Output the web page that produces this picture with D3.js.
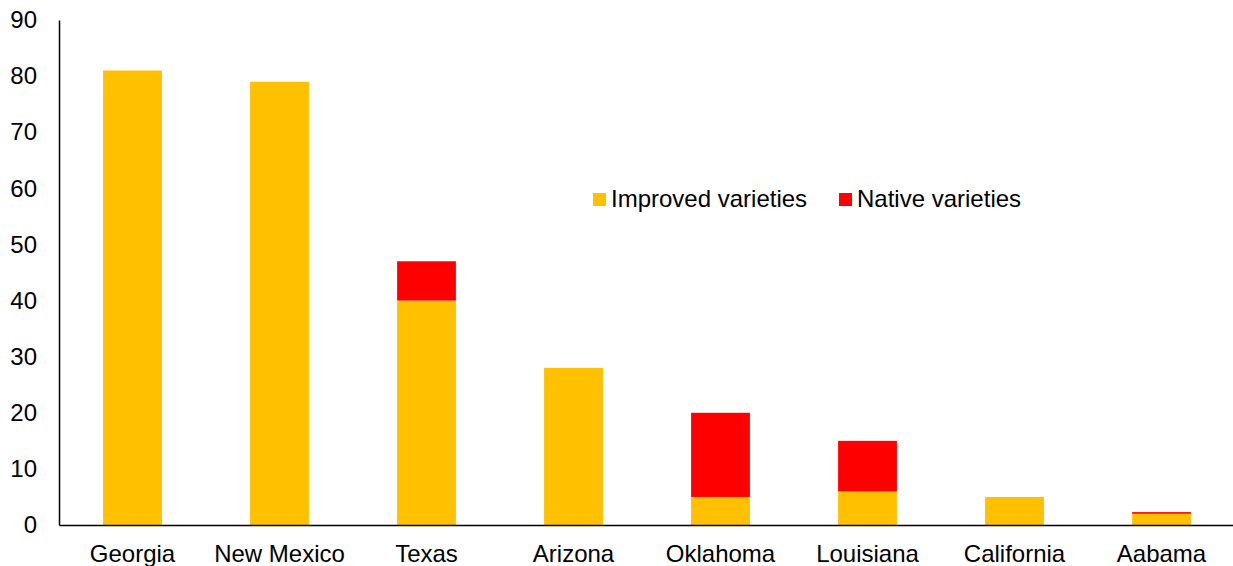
<!DOCTYPE html>
<html>
<head>
<meta charset="utf-8">
<script src="https://cdn.jsdelivr.net/npm/d3@7"></script>
<style>
  body { margin: 0; background: #fff; }
  svg { display: block; font-family: "Liberation Sans", Arial, sans-serif; }
</style>
</head>
<body>
<svg id="chart" width="1233" height="566"></svg>
<script>
// data
const states = ["Georgia", "New Mexico", "Texas", "Arizona", "Oklahoma", "Louisiana", "California", "Aabama"];
const improved = [81, 79, 40, 28, 5, 6, 5, 2];
const native = [0, 0, 7, 0, 15, 9, 0, 0.3];
const yTicks = [0, 10, 20, 30, 40, 50, 60, 70, 80, 90];
const seriesNames = ["Improved varieties", "Native varieties"];
const colors = ["#FFC000", "#FF0000"];

const svg = d3.select("#chart");
const margin = { top: 20, right: -2, bottom: 41, left: 59 };
const width = 1233 - margin.left - margin.right;
const height = 566 - margin.top - margin.bottom;
const fontSize = 24;

const g = svg.append("g")
  .attr("transform", `translate(${margin.left},${margin.top})`);

const x = d3.scaleBand()
  .domain(states)
  .range([0, width])
  .paddingInner(0.6)
  .paddingOuter(0.3);

const y = d3.scaleLinear()
  .domain([0, 90])
  .range([height, 0]);

// stacked rows
const rows = states.map((s, i) => ({ state: s, improved: improved[i], native: native[i] }));
const stack = d3.stack().keys(["improved", "native"]);
const layers = stack(rows);

g.selectAll("g.layer")
  .data(layers)
  .join("g")
  .attr("class", "layer")
  .attr("fill", (d, i) => colors[i])
  .selectAll("rect")
  .data(d => d.filter(p => p[1] > p[0]))
  .join("rect")
  .attr("x", d => x(d.data.state))
  .attr("width", x.bandwidth())
  .attr("y", d => y(d[1]))
  .attr("height", d => y(d[0]) - y(d[1]));

// y axis: line + labels, no ticks
const yAxis = g.append("g")
  .call(d3.axisLeft(y).tickValues(yTicks).tickSize(0).tickPadding(22));
yAxis.select(".domain").attr("stroke", "#000").attr("stroke-width", 1.5);
yAxis.selectAll("text")
  .attr("font-size", fontSize)
  .attr("font-family", "Liberation Sans, Arial, sans-serif")
  .attr("fill", "#000");

// x axis
const xAxis = g.append("g")
  .attr("transform", `translate(0,${height})`)
  .call(d3.axisBottom(x).tickSize(0).tickPadding(20));
xAxis.select(".domain").attr("stroke", "#000").attr("stroke-width", 1.5);
xAxis.selectAll("text")
  .attr("font-size", fontSize)
  .attr("font-family", "Liberation Sans, Arial, sans-serif")
  .attr("fill", "#000");

// legend
const legendX = [593, 839];
const legend = svg.append("g");
seriesNames.forEach((name, i) => {
  legend.append("rect")
    .attr("x", legendX[i])
    .attr("y", 193)
    .attr("width", 13)
    .attr("height", 13)
    .attr("fill", colors[i]);
  legend.append("text")
    .attr("x", legendX[i] + 18)
    .attr("y", 207)
    .attr("font-size", fontSize)
    .attr("fill", "#000")
    .text(name);
});
</script>
</body>
</html>
